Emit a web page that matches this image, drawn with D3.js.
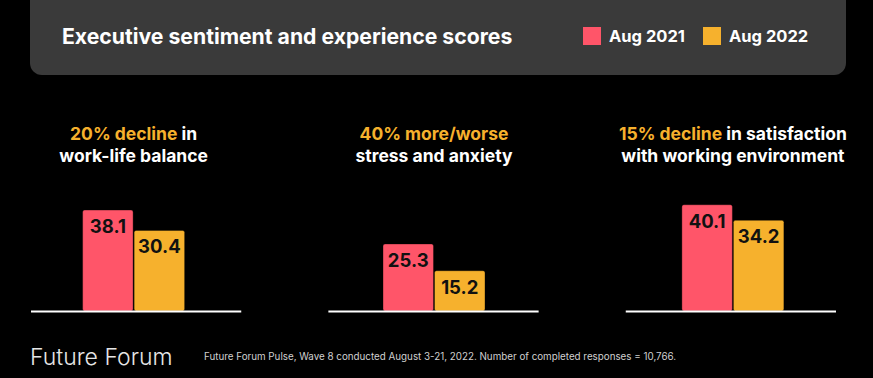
<!DOCTYPE html>
<html>
<head>
<meta charset="utf-8">
<script src="https://cdn.jsdelivr.net/npm/d3@7"></script>
<style>
  html, body { margin: 0; padding: 0; background: #000; }
  svg { display: block; font-family: Inter, "Noto Sans", sans-serif; }
</style>
</head>
<body>
<div id="chart"></div>
<script>
// data
const series = ["Aug 2021", "Aug 2022"];
const metrics = ["work-life", "stress", "environment"];
const aug2021 = [38.1, 25.3, 40.1];
const aug2022 = [30.4, 15.2, 34.2];
const highlights = ["20% decline", "40% more/worse", "15% decline"];
const line1Rest = [" in", "", " in satisfaction"];
const line2 = ["work-life balance", "stress and anxiety", "with working environment"];

const colors = { "Aug 2021": "#ff5569", "Aug 2022": "#f6b12d" };
const gold = "#f6b12d";

const W = 873, H = 378;
const baseline = 311;

const svg = d3.select("#chart")
    .append("svg")
    .attr("width", W)
    .attr("height", H);

svg.append("rect")
    .attr("width", W)
    .attr("height", H)
    .attr("fill", "#000");

// header panel
svg.append("rect")
    .attr("x", 30)
    .attr("y", -20)
    .attr("width", 816)
    .attr("height", 95)
    .attr("rx", 12)
    .attr("fill", "#3a3a3a");

svg.append("text")
    .attr("x", 62)
    .attr("y", 44)
    .attr("fill", "#fff")
    .attr("font-size", 21.2)
    .attr("font-weight", 700)
    .text("Executive sentiment and experience scores");

// legend
const legendX = [583, 703];
series.forEach((s, i) => {
    svg.append("rect")
        .attr("x", legendX[i])
        .attr("y", 27)
        .attr("width", 18)
        .attr("height", 18)
        .attr("fill", colors[s]);
    svg.append("text")
        .attr("x", legendX[i] + 26)
        .attr("y", 42)
        .attr("fill", "#fff")
        .attr("font-size", 16.5)
        .attr("font-weight", 700)
        .text(s);
});

// scales
const panelScale = d3.scaleBand()
    .domain(metrics)
    .range([31, 836])
    .paddingInner(0.293);

const yScale = d3.scaleLinear()
    .domain([0, 50])
    .range([baseline, baseline - 132.5]);

// small nudge of each bar group inside its panel
const groupShift = [-2.5, 0.5, 2];

const rows = metrics.map((m, i) => ({
    metric: m,
    values: [
        { series: series[0], value: aug2021[i] },
        { series: series[1], value: aug2022[i] }
    ]
}));

const panels = svg.selectAll("g.panel")
    .data(rows)
    .enter()
    .append("g")
    .attr("class", "panel");

panels.each(function (d, i) {
    const g = d3.select(this);
    const x0 = panelScale(d.metric);
    const cx = x0 + panelScale.bandwidth() / 2 + groupShift[i];

    const xScale = d3.scaleBand()
        .domain(series)
        .range([cx - 51, cx + 51])
        .paddingInner(0.02);

    // title
    const t = g.append("text")
        .attr("x", cx)
        .attr("y", 140)
        .attr("text-anchor", "middle")
        .attr("font-size", 17.5)
        .attr("font-weight", 700);
    t.append("tspan").attr("fill", gold).text(highlights[i]);
    t.append("tspan").attr("fill", "#fff").text(line1Rest[i]);

    g.append("text")
        .attr("x", cx)
        .attr("y", 162)
        .attr("text-anchor", "middle")
        .attr("font-size", 17.5)
        .attr("font-weight", 700)
        .attr("fill", "#fff")
        .text(line2[i]);

    // bars
    g.selectAll("rect.bar")
        .data(d.values)
        .enter()
        .append("rect")
        .attr("class", "bar")
        .attr("x", v => xScale(v.series))
        .attr("y", v => yScale(v.value))
        .attr("width", xScale.bandwidth())
        .attr("height", v => yScale(0) - yScale(v.value))
        .attr("rx", 2)
        .attr("fill", v => colors[v.series])
        .attr("stroke", "rgba(0,0,0,0.35)")
        .attr("stroke-width", 1);

    g.selectAll("text.val")
        .data(d.values)
        .enter()
        .append("text")
        .attr("class", "val")
        .attr("x", v => xScale(v.series) + xScale.bandwidth() / 2)
        .attr("y", v => yScale(v.value) + 23)
        .attr("text-anchor", "middle")
        .attr("font-size", 18.5)
        .attr("font-weight", 700)
        .attr("fill", "#111")
        .text(v => v.value.toFixed(1));

    // baseline
    g.append("line")
        .attr("x1", x0)
        .attr("x2", x0 + panelScale.bandwidth())
        .attr("y1", baseline + 0.5)
        .attr("y2", baseline + 0.5)
        .attr("stroke", "#fff")
        .attr("stroke-width", 2);
});

// footer
svg.append("text")
    .attr("x", 30)
    .attr("y", 365)
    .attr("fill", "#e6e6e6")
    .attr("font-size", 23)
    .attr("font-weight", 300)
    .text("Future Forum");

svg.append("text")
    .attr("x", 204)
    .attr("y", 360)
    .attr("fill", "#d0d0d0")
    .attr("font-size", 9.8)
    .text("Future Forum Pulse, Wave 8 conducted August 3-21, 2022. Number of completed responses = 10,766.");
</script>
</body>
</html>
